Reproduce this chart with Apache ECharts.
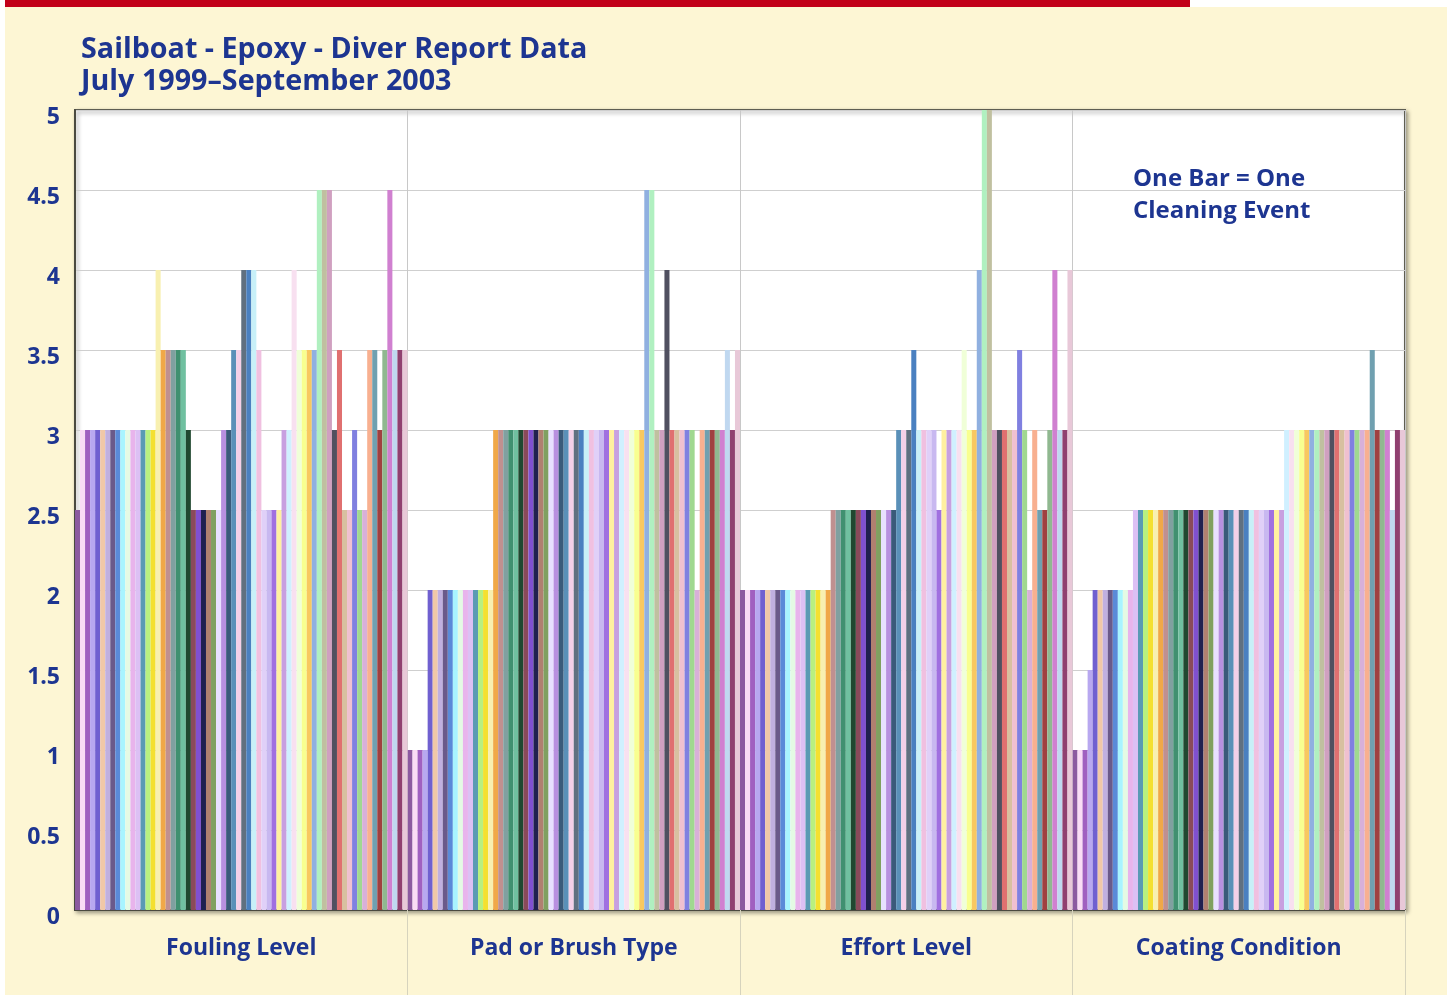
<!DOCTYPE html>
<html>
<head>
<meta charset="utf-8">
<title>Sailboat - Epoxy - Diver Report Data</title>
<script src="https://cdn.jsdelivr.net/npm/echarts@6/dist/echarts.min.js"></script>
<style>
  html, body { margin: 0; padding: 0; background: #fff; }
  #chart { width: 1447px; height: 995px; }
</style>
</head>
<body>
<div id="chart"></div>
<script>
// categories on the x axis
var categories = ['Fouling Level', 'Pad or Brush Type', 'Effort Level', 'Coating Condition'];

// one value per cleaning event (66 events)
var fouling = [2.5, 3, 3, 3, 3, 3, 3, 3, 3, 3, 3, 3, 3, 3, 3, 3, 4, 3.5, 3.5, 3.5, 3.5, 3.5, 3,
  2.5, 2.5, 2.5, 2.5, 2.5, 2.5, 3, 3, 3.5, 3.5, 4, 4, 4, 3.5, 2.5, 2.5, 2.5, 2.5, 3, 3, 4,
  3.5, 3.5, 3.5, 3.5, 4.5, 4.5, 4.5, 3, 3.5, 2.5, 2.5, 3, 2.5, 2.5, 3.5, 3.5, 3, 3.5, 4.5,
  3.5, 3.5, 3.5];
var pad = [1, 1, 1, 1, 2, 2, 2, 2, 2, 2, 2, 2, 2, 2, 2, 2, 2,
  3, 3, 3, 3, 3, 3, 3, 3, 3, 3, 3, 3, 3, 3, 3, 3, 3, 3, 3, 3, 3, 3, 3, 3, 3, 3, 3, 3, 3, 3,
  4.5, 4.5, 3, 3, 4, 3, 3, 3, 3, 3, 2, 3, 3, 3, 3, 3, 3.5, 3, 3.5];
var effort = [2, 2, 2, 2, 2, 2, 2, 2, 2, 2, 2, 2, 2, 2, 2, 2, 2, 2,
  2.5, 2.5, 2.5, 2.5, 2.5, 2.5, 2.5, 2.5, 2.5, 2.5, 2.5, 2.5, 2.5,
  3, 3, 3, 3.5, 3, 3, 3, 3, 2.5, 3, 3, 3, 3, 3.5, 3, 3, 4, 5, 5,
  3, 3, 3, 3, 3, 3.5, 3, 2, 3, 2.5, 2.5, 3, 4, 3, 3, 4];
var coating = [1, 1, 1, 1.5, 2, 2, 2, 2, 2, 2, 2, 2,
  2.5, 2.5, 2.5, 2.5, 2.5, 2.5, 2.5, 2.5, 2.5, 2.5, 2.5, 2.5, 2.5, 2.5, 2.5,
  2.5, 2.5, 2.5, 2.5, 2.5, 2.5, 2.5, 2.5, 2.5, 2.5, 2.5, 2.5, 2.5, 2.5, 2.5,
  3, 3, 3, 3, 3, 3, 3, 3, 3, 3, 3, 3, 3, 3, 3, 3, 3, 3.5, 3, 3, 3, 2.5, 3, 3];

// y axis ticks
var yMin = 0, yMax = 5, yStep = 0.5;

// a colour for every event (series)
var palette = [
  '#8c5aa0', '#fadcf5', '#a060c0', '#b8a8f0', '#7060d0', '#f0c8a8', '#c0b0e0', '#6a5a8a',
  '#5a8ad8', '#a8f4ff', '#e4fae4', '#e8b4ec', '#dcc0f4', '#5a9ab4', '#b8f080', '#f4e030',
  '#f8f0b0', '#f0a848', '#c09090', '#80a0a0', '#409070', '#70c0a0', '#204830', '#8a4a5a',
  '#8050d0', '#202050', '#b08070', '#80a060', '#e8e0ff', '#b890e0', '#3a5a7a', '#5a90b8',
  '#f4d0e8', '#607080', '#4a80c0', '#c8f0f8', '#f0c0e0', '#e0d0f8', '#c8b8f0', '#a070e0',
  '#fff0a0', '#c8a0e0', '#d0f0ff', '#f8e0f0', '#f0ffd8', '#f8ff90', '#f8c860', '#90b0e0',
  '#b0f0c0', '#c0c0a0', '#d0a0c0', '#505060', '#e07070', '#d8c0a0', '#f0c0d0', '#8080e0',
  '#a0d890', '#d8b0d8', '#f8b090', '#70a0b0', '#a04040', '#90b890', '#d080d0', '#c0d8f0',
  '#904070', '#e8c8d8'
];

var navy = '#1d3591';
var font = 'Open Sans';

var series = [];
for (var i = 0; i < fouling.length; i++) {
  series.push({
    type: 'bar',
    name: 'Event ' + (i + 1),
    data: [fouling[i], pad[i], effort[i], coating[i]],
    itemStyle: { color: palette[i % palette.length] },
    barGap: '0%',
    barCategoryGap: '0%'
  });
}

var chart = echarts.init(document.getElementById('chart'));
var option = {
  backgroundColor: '#fdf6d4',
  animation: false,
  title: [
    {
      text: 'Sailboat - Epoxy - Diver Report Data\nJuly 1999\u2013September 2003',
      left: 76,
      top: 29,
      textStyle: { color: navy, fontFamily: font, fontWeight: 'bold', fontSize: 28.7, lineHeight: 32 }
    },
    {
      text: 'One Bar = One\nCleaning Event',
      left: 1128,
      top: 158,
      textStyle: { color: navy, fontFamily: font, fontWeight: 'bold', fontSize: 24, lineHeight: 32 }
    }
  ],
  graphic: [
    { type: 'rect', left: 0, top: 0, shape: { width: 1190, height: 7 }, style: { fill: '#c20019' } },
    { type: 'rect', left: 1190, top: 0, shape: { width: 257, height: 7 }, style: { fill: '#ffffff' } },
    { type: 'rect', left: 0, top: 0, shape: { width: 5, height: 995 }, style: { fill: '#ffffff' } }
  ],
  grid: {
    left: 75,
    right: 42,
    top: 110,
    bottom: 85,
    show: true,
    backgroundColor: '#ffffff',
    borderColor: '#5e5e52',
    borderWidth: 2,
    shadowColor: 'rgba(0,0,0,0.35)',
    shadowBlur: 4,
    shadowOffsetX: 2,
    shadowOffsetY: 2
  },
  xAxis: {
    type: 'category',
    data: categories,
    axisLine: { show: true, lineStyle: { color: '#4a4a40', width: 2 } },
    axisTick: {
      show: true,
      length: 86,
      interval: function (index) { return index > 0; },
      lineStyle: { color: '#d6d3bd', width: 1 }
    },
    splitLine: { show: true, lineStyle: { color: '#c8c8c8', width: 1 } },
    axisLabel: {
      color: navy, fontFamily: font, fontWeight: 'bold', fontSize: 23, margin: 27
    }
  },
  yAxis: {
    type: 'value',
    min: yMin,
    max: yMax,
    interval: yStep,
    axisLine: { show: true, lineStyle: { color: '#4a4a40', width: 2 } },
    axisTick: { show: false },
    splitLine: { show: true, lineStyle: { color: '#cfcfcf', width: 1 } },
    axisLabel: {
      color: navy, fontFamily: font, fontWeight: 'bold', fontSize: 23, margin: 15,
      verticalAlign: 'top', lineHeight: 14
    }
  },
  series: series
};
chart.setOption(option);
</script>
</body>
</html>
